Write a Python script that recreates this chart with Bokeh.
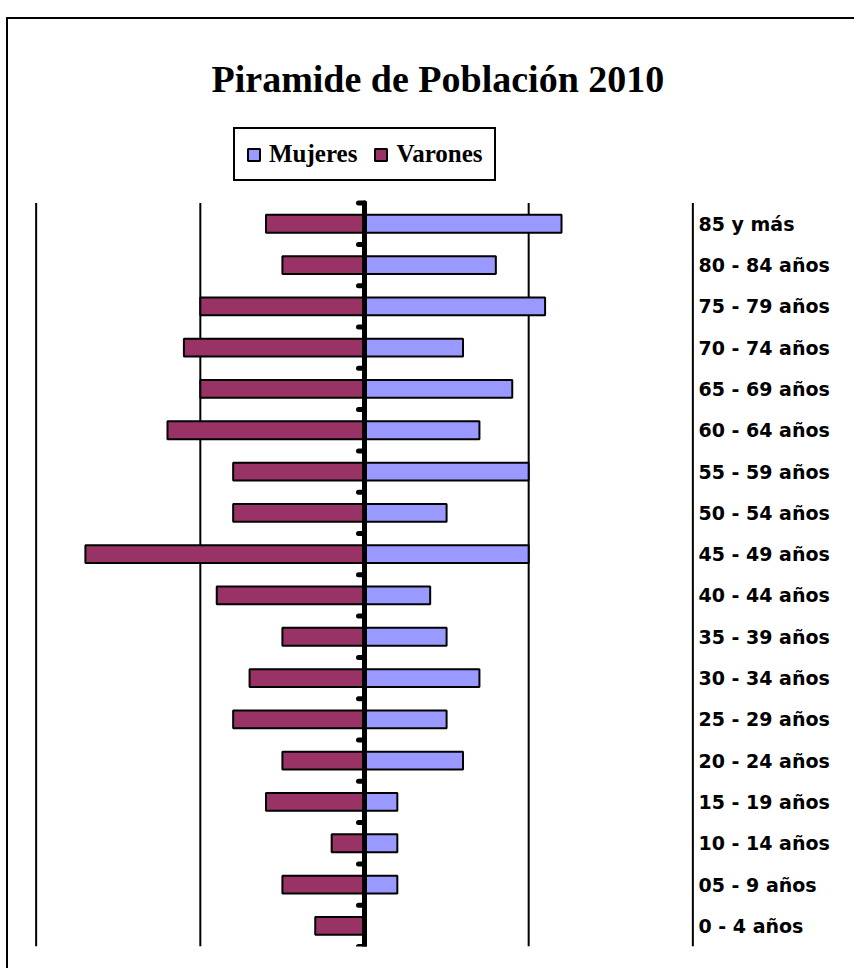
import numpy as np
from bokeh.plotting import figure
from bokeh.models import Range1d, FixedTicker, Legend, LegendItem
from bokeh.embed import file_html
from bokeh.resources import INLINE

# ---- data (bottom to top) ----
age_groups = ["0 - 4 años", "05 - 9 años", "10 - 14 años", "15 - 19 años",
              "20 - 24 años", "25 - 29 años", "30 - 34 años", "35 - 39 años",
              "40 - 44 años", "45 - 49 años", "50 - 54 años", "55 - 59 años",
              "60 - 64 años", "65 - 69 años", "70 - 74 años", "75 - 79 años",
              "80 - 84 años", "85 y más"]
mujeres = [0, 2, 2, 2, 6, 5, 7, 5, 4, 10, 5, 10, 7, 9, 6, 11, 8, 12]
varones = [3, 5, 2, 6, 5, 8, 7, 5, 9, 17, 8, 8, 12, 10, 11, 10, 5, 6]
grid_values = [-20, -10, 10, 20]
title_text = "Piramide de Población 2010"

n = len(age_groups)
idx = list(range(n))
neg_varones = [-v for v in varones]
zeros = [0] * n
boundaries = [i - 0.5 for i in range(n + 1)]

p = figure(frame_width=660, frame_height=826,
           x_range=Range1d(-20.1, 20.1), y_range=Range1d(-0.5, 19.5),
           output_backend="svg", toolbar_location=None,
           x_axis_location=None, y_axis_location="right",
           min_border_left=26, min_border_top=101, min_border_bottom=22,
           min_border_right=160)
p.grid.visible = False
p.outline_line_color = None
p.background_fill_color = "white"
p.border_fill_color = "white"

# gridlines
p.segment(x0=grid_values, x1=grid_values, y0=[-0.5] * len(grid_values),
          y1=[n - 0.5] * len(grid_values), line_color="black", line_width=2)

r_v = p.hbar(y=idx, left=neg_varones, right=zeros, height=0.43,
             fill_color="#993366", line_color="black", line_width=2)
r_m = p.hbar(y=idx, left=zeros, right=mujeres, height=0.43,
             fill_color="#9999FF", line_color="black", line_width=2)

# central axis with ticks
p.segment(x0=[0], x1=[0], y0=[-0.5], y1=[n - 0.5], line_color="black",
          line_width=5, line_cap="round")
p.ray(x=[0] * len(boundaries), y=boundaries, length=6, length_units="screen",
      angle=np.pi, line_color="black", line_width=5, line_cap="round")

# category labels on right axis
ax = p.yaxis[0]
ax.ticker = FixedTicker(ticks=idx)
ax.major_label_overrides = {i: lab for i, lab in zip(idx, age_groups)}
ax.axis_line_color = None
ax.major_tick_line_color = None
ax.minor_tick_line_color = None
ax.major_tick_in = 0
ax.major_tick_out = 0
ax.major_label_standoff = 4
ax.major_label_text_font = "DejaVu Sans"
ax.major_label_text_font_style = "bold"
ax.major_label_text_font_size = "19px"
ax.major_label_text_color = "black"

legend = Legend(items=[LegendItem(label="Mujeres", renderers=[r_m]),
                       LegendItem(label="Varones", renderers=[r_v])],
                orientation="horizontal", location=(199, 765),
                glyph_width=15, glyph_height=15, label_standoff=8, spacing=16,
                padding=11, margin=0,
                label_text_font="Liberation Serif", label_text_font_style="bold",
                label_text_font_size="25px", label_text_color="black",
                border_line_color="black", border_line_width=2,
                border_line_alpha=1.0,
                background_fill_color="white", background_fill_alpha=1.0)
p.add_layout(legend)

p.title.text = title_text
p.title.align = "left"
p.title.offset = 177
p.title.text_font = "Liberation Serif"
p.title.text_font_style = "bold"
p.title.text_font_size = "38px"
p.title.text_color = "black"
p.title.standoff = 41

p.styles = {"border-left": "2px solid black", "border-top": "2px solid black",
            "margin-top": "17px", "margin-left": "6px"}

open("out.html", "w").write(file_html(p, INLINE))
